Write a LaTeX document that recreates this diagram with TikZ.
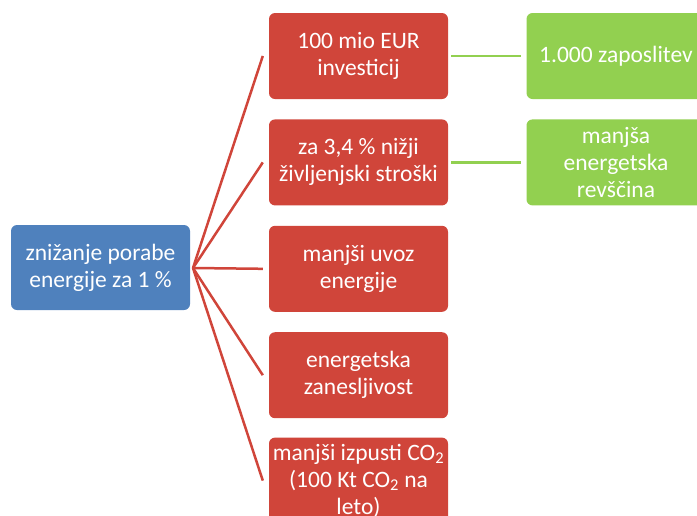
\documentclass[tikz,border=0pt]{standalone}
\usepackage{fontspec}
\setmainfont{Carlito}
\usepackage{xcolor}
\usetikzlibrary{positioning,calc}

\definecolor{rootblue}{HTML}{4F81BD}
\definecolor{effred}{HTML}{D0453A}
\definecolor{effgreen}{HTML}{92D050}

\tikzset{
  box/.style={rectangle, rounded corners=6pt, minimum width=179pt, minimum height=86pt,
    align=center, text=white, inner sep=0pt,
    font=\fontsize{23.5}{27}\selectfont},
  rootbox/.style={box, fill=rootblue, minimum height=85pt},
  redbox/.style={box, fill=effred},
  greenbox/.style={box, fill=effgreen},
  redline/.style={draw=effred, line width=2.5pt},
  greenline/.style={draw=effgreen, line width=2.8pt}
}

\begin{document}
\begin{tikzpicture}[x=1pt, y=-1pt]
    \useasboundingbox (0,0) rectangle (697,515);
    \clip (0,0) rectangle (697,515);

    \node (root) [rootbox] at (100.5,267.5) {znižanje porabe\\energije za 1 \%};
    \coordinate (hub) at (193,268);

    \node (inv) [redbox] at (358.5,56) {100 mio EUR\\investicij};
    \node (cost) [redbox, below=20pt of inv] {za 3,4 \% nižji\\življenjski stroški};
    \node (imp) [redbox, below=20pt of cost] {manjši uvoz\\energije};
    \node (sec) [redbox, below=20pt of imp] {energetska\\zanesljivost};
    \node (emis) [redbox, below=19pt of sec] {manjši izpusti CO\textsubscript{2}\\(100 Kt CO\textsubscript{2} na\\leto)};

    \node (jobs) [greenbox] at (616,56) {1.000 zaposlitev};
    \node (pov) [greenbox, below=20pt of jobs] {manjša\\energetska\\revščina};

    % veje iz korena
    \foreach \n in {inv,cost,imp,sec,emis}
        \draw [redline] (hub) -- ([xshift=-6pt]\n.west);

    \draw [greenline] ([xshift=3pt]inv.east) -- ([xshift=-5pt]jobs.west);
    \draw [greenline] ([xshift=3pt]cost.east) -- ([xshift=-5pt]pov.west);
\end{tikzpicture}
\end{document}
